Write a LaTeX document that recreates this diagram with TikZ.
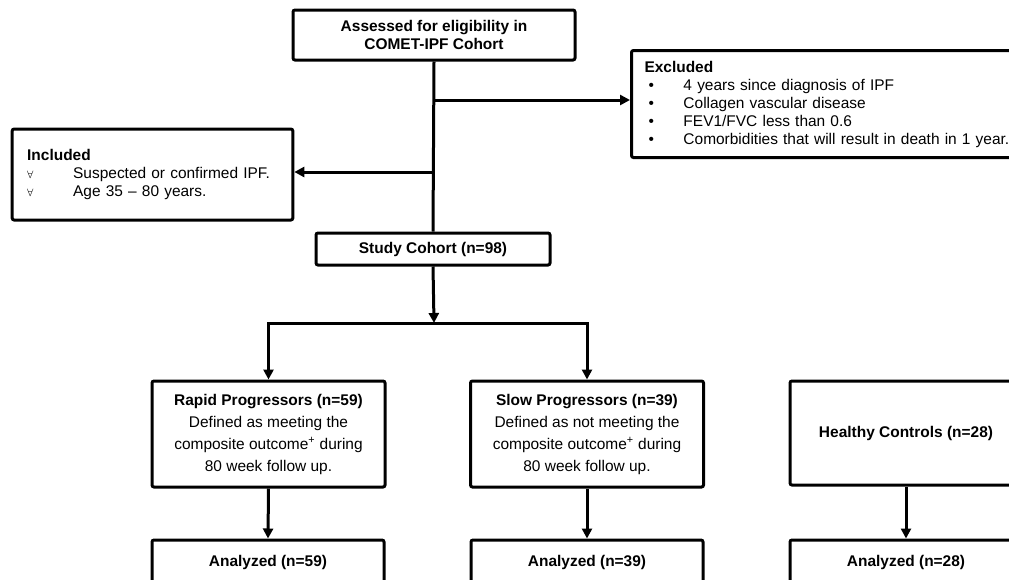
\documentclass[tikz,border=0pt]{standalone}
\usepackage{fontspec}
\setmainfont{Liberation Sans}
\usetikzlibrary{arrows.meta}

\tikzset{
  box/.style={draw, line width=2.25pt, rounded corners=1.5pt, align=center,
    inner sep=2pt, font=\fontsize{11.6}{13.5}\selectfont},
  listbox/.style={box, align=left, inner xsep=10pt},
  groupbox/.style={box, font=\fontsize{11.6}{16.5}\selectfont},
  conn/.style={line width=2.25pt},
  arr/.style={conn, -{Triangle[length=7.5pt,width=7.5pt]}},
}
\newcommand{\exitem}[1]{\makebox[29.25pt][l]{\hspace{3pt}•}#1}
\newcommand{\initem}[1]{\makebox[34.5pt][l]{{\footnotesize$\forall$}}#1}

\begin{document}
\begin{tikzpicture}[x=0.75pt,y=0.75pt,yscale=-1,xscale=1]
\useasboundingbox (0,0) rectangle (1009,579);
\clip (0,0) rectangle (1009,579);

%Shape: Rectangle (assessed)
\node[box, minimum width=211.5pt, minimum height=37.5pt] (assess) at (434,35)
  {\textbf{Assessed for eligibility in}\\\textbf{COMET-IPF Cohort}};
%Shape: Rectangle (excluded)
\node[listbox, anchor=north west, text width=290pt, inner xsep=9.75pt,
  minimum height=80.25pt] (excl) at (630,49)
  {\textbf{Excluded}\\
   \exitem{4 years since diagnosis of IPF}\\
   \exitem{Collagen vascular disease}\\
   \exitem{FEV1/FVC less than 0.6}\\
   \exitem{Comorbidities that will result in death in 1 year.}};
%Shape: Rectangle (included)
\node[listbox, text width=188pt, inner xsep=11.25pt, minimum height=68.25pt]
  (incl) at (152.5,174.5)
  {\textbf{Included}\\
   \initem{Suspected or confirmed IPF.}\\
   \initem{Age 35 -- 80 years.}};
%Shape: Rectangle (study cohort)
\node[box, minimum width=175.5pt, minimum height=24pt] (study) at (433,249)
  {\textbf{Study Cohort (n=98)}};

%Shape: Rectangle (groups)
\node[groupbox, minimum width=174.75pt, minimum height=79.5pt] (rapid) at (268.5,434)
  {\textbf{Rapid Progressors (n=59)}\\Defined as meeting the\\
   composite outcome\textsuperscript{+} during\\80 week follow up.};
\node[groupbox, minimum width=174.75pt, minimum height=79.5pt] (slow) at (587,434)
  {\textbf{Slow Progressors (n=39)}\\Defined as not meeting the\\
   composite outcome\textsuperscript{+} during\\80 week follow up.};
\node[groupbox, minimum width=174pt, minimum height=78pt] (healthy) at (906,433)
  {\textbf{Healthy Controls (n=28)}};

%Shape: Rectangle (analyzed)
\node[box, minimum width=174pt, minimum height=33pt] (anrapid) at (268,562)
  {\textbf{Analyzed (n=59)}};
\node[box, minimum width=174pt, minimum height=33pt] (anslow) at (587,562)
  {\textbf{Analyzed (n=39)}};
\node[box, minimum width=174pt, minimum height=33pt] (anhealthy) at (906,562)
  {\textbf{Analyzed (n=28)}};

% branch points
\coordinate (toexcl) at (434,100);
\coordinate (toincl) at (434,172);
\coordinate (split) at (434,323);

%Straight Lines
\draw[conn] (assess.south) -- (study.north);
\draw[arr] (toexcl) -- (toexcl -| excl.west);
\draw[arr] (toincl) -- (toincl -| incl.east);
\draw[arr] (study.south) -- (split);
\draw[arr] (split) -| (rapid.north);
\draw[arr] (split) -| (slow.north);
\draw[arr] (rapid.south) -- (anrapid.north);
\draw[arr] (slow.south) -- (anslow.north);
\draw[arr] (healthy.south) -- (anhealthy.north);

\end{tikzpicture}
\end{document}
